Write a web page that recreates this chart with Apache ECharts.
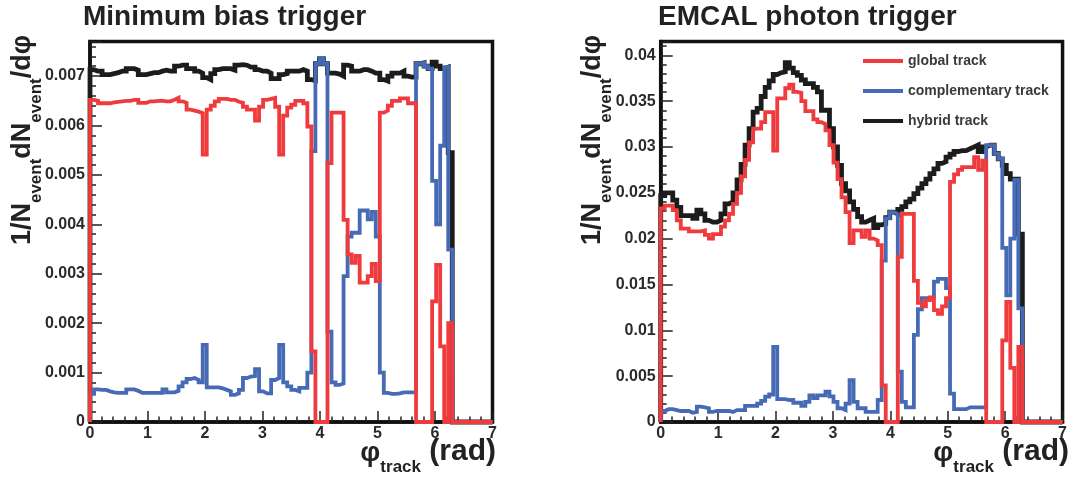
<!DOCTYPE html>
<html><head><meta charset="utf-8">
<script src="https://cdn.jsdelivr.net/npm/echarts@6/dist/echarts.min.js"></script>
<style>html,body{margin:0;padding:0;background:#fff;}#c{width:1070px;height:478px;}</style>
</head><body><div id="c"></div>
<script>
// histogram binning: 100 bins of 0.07 rad from 0 to 7
const binWidth = 0.07;
const unit = 1e-3; // values below are in units of 1e-3

// ---- Minimum bias trigger ----
const mbGlobal = [
6.52,6.50,6.45,6.45,6.45,6.47,6.48,6.49,6.50,6.50,
6.52,6.52,6.46,6.46,6.49,6.49,6.50,6.50,6.49,6.49,
6.52,6.56,6.49,6.46,6.32,6.30,6.28,6.25,5.41,6.32,
6.40,6.49,6.54,6.54,6.52,6.52,6.48,6.46,6.38,6.32,
6.32,6.10,6.38,6.52,6.54,6.56,6.38,5.41,6.20,6.36,
6.42,6.50,6.50,6.45,5.98,1.43,0,0,0,5.24,
6.26,6.26,6.26,4.09,3.39,3.22,3.36,2.82,2.82,2.95,
3.20,2.85,6.26,6.30,6.40,6.50,6.50,6.55,6.55,6.45,
6.45,0,0,0,0,2.44,3.18,1.53,0,2.00,
0,0,0,0,0,0,0,0,0,0];
const mbComplementary = [
0.57,0.66,0.65,0.65,0.62,0.60,0.59,0.59,0.59,0.66,
0.66,0.63,0.59,0.59,0.59,0.59,0.59,0.59,0.66,0.60,
0.60,0.63,0.72,0.80,0.87,0.89,0.85,0.80,1.56,0.70,
0.70,0.70,0.68,0.65,0.62,0.55,0.58,0.65,0.89,0.92,
0.93,1.07,0.62,0.58,0.58,0.85,0.89,1.56,0.80,0.72,
0.65,0.62,0.69,0.69,1.00,5.48,7.25,7.37,7.25,1.83,
0.80,0.75,0.78,2.95,3.75,3.83,3.83,4.28,4.28,4.10,
4.25,3.75,1.00,0.59,0.57,0.57,0.58,0.60,0.60,0.60,
0.60,7.25,7.27,7.20,7.15,4.88,4.00,5.59,7.18,3.49,
0,0,0,0,0,0,0,0,0,0];
const mbHybrid = [
7.13,7.10,7.10,7.03,7.03,7.05,7.07,7.10,7.10,7.15,
7.15,7.12,7.03,7.03,7.05,7.07,7.07,7.10,7.12,7.10,
7.10,7.20,7.22,7.22,7.15,7.15,7.10,7.06,6.97,6.93,
7.05,7.13,7.15,7.15,7.15,7.12,7.22,7.23,7.22,7.18,
7.18,7.13,7.10,7.10,7.06,6.95,6.95,7.03,7.05,7.10,
7.10,7.10,7.13,7.10,6.93,6.91,7.25,7.35,7.25,7.06,
7.06,7.04,7.00,7.22,7.20,7.10,7.10,7.13,7.13,7.10,
7.06,7.06,6.93,6.90,7.00,7.06,7.06,7.10,7.00,6.98,
6.98,7.25,7.27,7.20,7.15,7.28,7.20,7.15,7.18,5.45,
0,0,0,0,0,0,0,0,0,0];

// ---- EMCAL photon trigger ----
const emGlobal = [
23.3,23.6,23.6,23.1,22.0,21.1,21.1,20.8,20.8,20.8,
20.9,20.4,20.0,20.5,20.5,21.3,22.0,22.7,23.8,25.0,
26.8,28.6,30.5,32.0,32.0,32.7,33.8,33.8,29.6,35.3,
35.3,36.4,36.8,36.0,35.9,35.0,33.9,33.9,33.0,32.7,
32.5,31.8,30.2,28.3,26.5,24.5,22.9,19.5,20.9,20.9,
20.2,20.9,20.0,19.8,19.3,4.0,0,0,0,18.0,
22.7,22.7,22.7,15.4,13.0,12.6,13.3,13.6,12.2,11.8,
12.6,13.5,26.2,27.0,27.5,27.8,27.8,27.8,28.9,27.5,
28.5,0,0,0,0,8.9,13.1,5.9,0,8.2,
0,0,0,0,0,0,0,0,0,0];
const emComplementary = [
1.2,1.4,1.4,1.3,1.2,1.2,1.2,1.0,1.1,1.67,
1.6,1.5,1.1,1.2,1.2,1.2,1.2,1.1,1.3,1.3,
1.3,1.75,1.75,1.75,2.0,2.3,2.76,3.0,8.2,2.5,
2.5,2.4,2.4,2.1,2.1,1.75,2.2,2.9,2.6,2.9,
2.9,3.3,2.8,2.2,1.5,1.3,2.0,4.57,2.2,1.5,
1.5,1.1,1.1,1.1,2.4,17.6,22.2,22.9,22.7,5.5,
2.2,1.6,1.6,9.5,12.3,13.5,13.5,13.6,15.3,15.6,
15.6,14.6,3.1,1.4,1.4,1.4,1.6,1.6,1.6,1.6,
1.6,30.2,30.2,29.3,28.7,19.0,13.8,20.0,26.4,12.4,
0,0,0,0,0,0,0,0,0,0];
const emHybrid = [
24.7,25.0,25.0,24.2,23.4,22.5,22.5,22.5,22.2,23.1,
22.7,22.0,21.8,21.8,22.0,22.7,23.8,24.0,25.0,26.4,
28.1,30.2,32.0,33.8,34.2,35.5,36.5,37.2,37.9,38.1,
38.2,39.2,38.6,38.1,37.8,37.3,36.9,36.9,36.5,36.0,
34.0,34.0,32.0,30.0,28.0,26.0,25.2,24.0,23.2,22.4,
21.8,22.0,22.2,21.2,21.5,21.6,22.3,22.9,22.7,23.2,
23.5,24.0,24.3,24.9,25.5,26.0,26.5,27.1,27.6,28.2,
28.4,28.9,29.2,29.5,29.6,29.6,29.8,30.0,30.2,29.5,
30.0,30.2,30.2,29.3,28.7,28.0,27.1,26.5,26.5,20.5,
0,0,0,0,0,0,0,0,0,0];

const panelTitles = ['Minimum bias trigger', 'EMCAL photon trigger'];
const seriesNames = ['global track', 'complementary track', 'hybrid track'];
const xTicks = [0, 7, 1];              // min, max, interval (rad)
const yAxesRange = [[0, 0.0077, 0.001], [0, 0.0415, 0.005]];

const COL = {global:'#EF3B3D', comp:'#466AB4', hybrid:'#1c1c1c'};
const FONT = '"Liberation Sans", Arial, Helvetica, sans-serif';

function histPoints(vals){
  const pts = [[0, 0]];
  for (let i = 0; i < vals.length; i++) pts.push([+((i + 1) * binWidth).toFixed(4), vals[i] * unit]);
  pts.push([+(vals.length * binWidth).toFixed(4), 0]);
  return pts;
}

const grids = [
  {left: 90, top: 41.5, width: 402.5, height: 380.5},
  {left: 660.7, top: 41.5, width: 407.4, height: 380.5}
];

function xAxisDef(gi){
  return {
    type:'value', gridIndex: gi, min: xTicks[0], max: xTicks[1], interval: xTicks[2],
    axisLine:{show:true, onZero:false, lineStyle:{color:'#111', width:3.5}},
    axisTick:{show:true, inside:true, length:11, lineStyle:{color:'#222', width:1.5}},
    minorTick:{show:true, splitNumber:5, length:5.5, lineStyle:{color:'#222', width:1.5}},
    splitLine:{show:false},
    axisLabel:{margin:4, color:'#2a2a2a', fontFamily:FONT, fontWeight:'bold', fontSize:16}
  };
}
function yAxisDef(gi){
  const r = yAxesRange[gi];
  return {
    type:'value', gridIndex: gi, min: r[0], max: r[1], interval: r[2],
    axisLine:{show:true, onZero:false, lineStyle:{color:'#111', width:3.5}},
    axisTick:{show:true, inside:true, length:12, lineStyle:{color:'#222', width:1.5}},
    minorTick:{show:true, splitNumber:5, length:6, lineStyle:{color:'#222', width:1.5}},
    splitLine:{show:false},
    axisLabel:{margin:5, showMaxLabel:false, color:'#2a2a2a', fontFamily:FONT, fontWeight:'bold', fontSize:16,
      formatter: v => String(+v.toFixed(4))}
  };
}
function lineSeries(name, vals, gi, color, width){
  return {
    name, type:'line', xAxisIndex:gi, yAxisIndex:gi, data: histPoints(vals), step:'start',
    showSymbol:false, symbol:'none', clip:false, animation:false, silent:true,
    lineStyle:{color, width, join:'miter', cap:'butt'}, itemStyle:{color}
  };
}

const series = [];
[[mbGlobal, mbComplementary, mbHybrid], [emGlobal, emComplementary, emHybrid]].forEach((set, gi) => {
  series.push(lineSeries(seriesNames[2], set[2], gi, COL.hybrid, 4.8));
  series.push(lineSeries(seriesNames[1], set[1], gi, COL.comp, 3.8));
  series.push(lineSeries(seriesNames[0], set[0], gi, COL.global, 3.8));
});

function yTitle(x, y){
  return {type:'text', x, y, rotation: Math.PI/2, z: 10,
    style:{text:'{b|1/N}{s|event}{b|dN}{s|event}{b|/dφ}', align:'center', verticalAlign:'middle',
      rich:{
        b:{fontSize:27, fontWeight:'bold', fontFamily:FONT, fill:'#222', verticalAlign:'bottom', padding:[0,0,8,0]},
        s:{fontSize:17, fontWeight:'bold', fontFamily:FONT, fill:'#222', verticalAlign:'bottom'}
      }}};
}
function xTitle(xRight, yBottom){
  return {type:'text', x: xRight, y: yBottom, z: 10,
    style:{text:'{p|φ}{s|track}{r| (rad)}', align:'right', verticalAlign:'bottom',
      rich:{
        p:{fontSize:28, fontWeight:'bold', fontFamily:FONT, fill:'#222', verticalAlign:'bottom', padding:[0,0,9,0]},
        s:{fontSize:17, fontWeight:'bold', fontFamily:FONT, fill:'#222', verticalAlign:'bottom'},
        r:{fontSize:30, fontWeight:'bold', fontFamily:FONT, fill:'#222', verticalAlign:'bottom', padding:[0,0,9,0]}
      }}};
}
function panelTitle(text, x){
  return {type:'text', x, y: 3, z: 10,
    style:{text, font:'bold 28px ' + FONT, fill:'#222', textAlign:'left', textVerticalAlign:'top'}};
}

const chart = echarts.init(document.getElementById('c'), null, {renderer:'canvas'});
chart.setOption({
  animation:false,
  backgroundColor:'#fff',
  grid: grids.map(g => Object.assign({show:true, borderColor:'#111', borderWidth:3.5, backgroundColor:'transparent', containLabel:false}, g)),
  xAxis: [xAxisDef(0), xAxisDef(1)],
  yAxis: [yAxisDef(0), yAxisDef(1)],
  legend: {
    show:true, orient:'vertical', left: 858, top: 48, itemWidth: 40, itemHeight: 4, itemGap: 14,
    icon:'rect', selectedMode:false, padding:5,
    data: seriesNames.map(n => ({name:n, icon:'rect'})),
    textStyle:{fontFamily:FONT, fontSize:14, fontWeight:'bold', color:'#3a3a3a', lineHeight:16}
  },
  series,
  graphic: [
    panelTitle(panelTitles[0], 83),
    panelTitle(panelTitles[1], 658),
    yTitle(27, 140),
    yTitle(597, 140),
    xTitle(496, 476),
    xTitle(1069, 476)
  ]
});
</script></body></html>
